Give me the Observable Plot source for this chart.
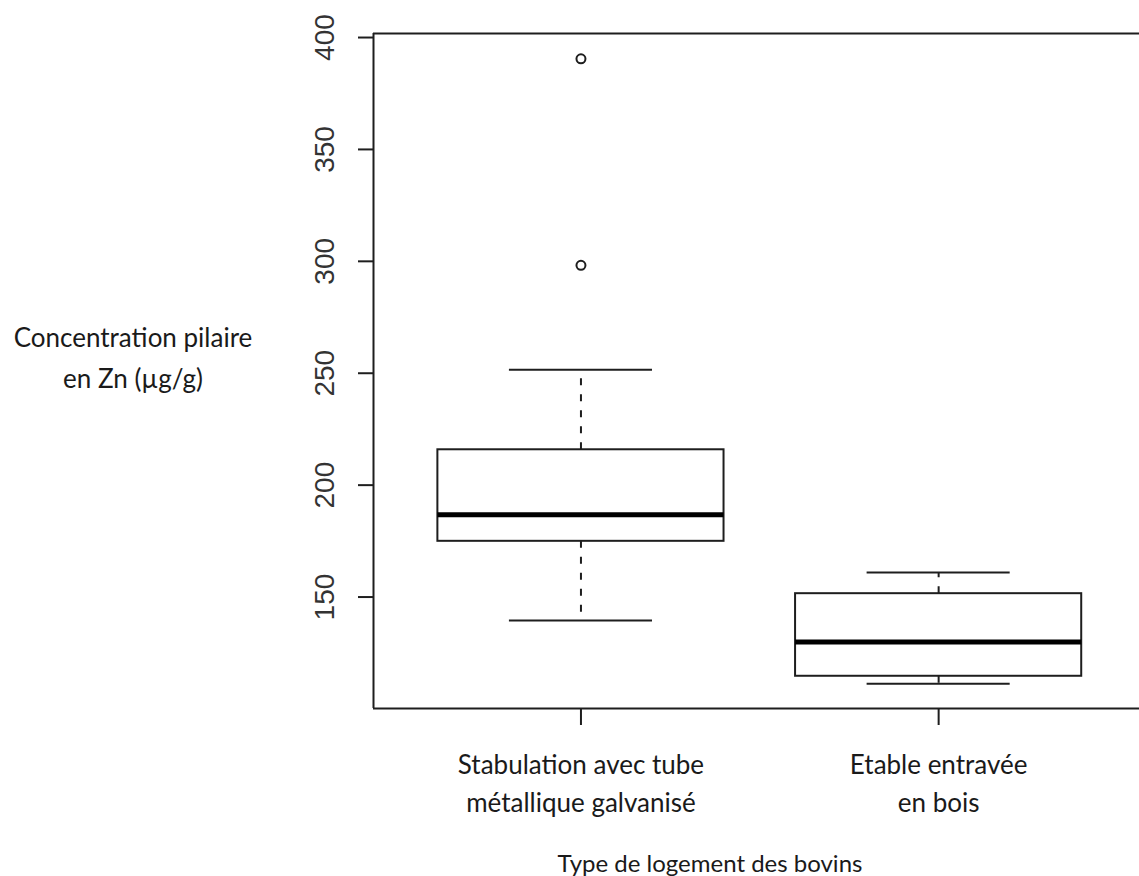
<!DOCTYPE html>
<html>
<head>
<meta charset="utf-8">
<script src="https://cdn.jsdelivr.net/npm/d3@7"></script>
<script src="https://cdn.jsdelivr.net/npm/@observablehq/plot@0.6"></script>
<style>
  body { margin: 0; background: #fff; }
  #wrap { position: relative; width: 1139px; height: 876px; overflow: hidden; }
  .lab { position: absolute; font-family: Lato, "Open Sans", sans-serif; font-size: 26px; color: #1a1a1a; text-align: center; line-height: 41px; white-space: nowrap; }
  #wrap svg { position: absolute; left: 0; top: 0; }
</style>
</head>
<body>
<div id="wrap">
  <div class="lab" id="ylab" style="left:0px; top:317px; width:266px;">Concentration pilaire<br>en Zn (µg/g)</div>
  <div class="lab" id="xlab" style="left:510px; top:842px; width:400px; font-size:24px;">Type de logement des bovins</div>
</div>
<script>
// ---- data ----
const groups = [1, 2];
const categories = ["Stabulation avec tube\nmétallique galvanisé", "Etable entravée\nen bois"];
const lowerWhisker = [139.5, 111.3];
const q1 = [174.9, 114.6];
const median = [186.8, 129.9];
const q3 = [215.8, 151.5];
const upperWhisker = [251.6, 161.0];
const outlierGroup = [1, 1];
const outlierValue = [390.5, 298.2];
const yTicks = [150, 200, 250, 300, 350, 400];

// ---- tables built from the arrays ----
const boxes = groups.map((g, i) => ({
  g, lo: lowerWhisker[i], q1: q1[i], med: median[i], q3: q3[i], hi: upperWhisker[i]
}));
const outliers = outlierGroup.map((g, i) => ({ g, v: outlierValue[i] }));

const xDomain = [0.42, 2.58];
const yDomain = [100.2, 401.8];
const boxHalf = 0.4, capHalf = 0.2;
const ink = "#1e1e1e";

const chart = Plot.plot({
  width: 1139,
  height: 876,
  marginLeft: 373,
  marginRight: 0,
  marginTop: 33,
  marginBottom: 168,
  style: { background: "transparent", overflow: "visible" },
  x: { type: "linear", domain: xDomain, range: [373, 1145.6] },
  y: { domain: yDomain, range: [708, 33] },
  marks: [
    // frame (left, top, bottom; right side is cropped off)
    Plot.ruleX([xDomain[0]], { y1: () => yDomain[0], y2: () => yDomain[1], stroke: ink, strokeWidth: 2 }),
    Plot.ruleY(yDomain, { x1: () => xDomain[0], x2: () => xDomain[1], stroke: ink, strokeWidth: 2 }),
    // whiskers
    Plot.ruleX(boxes, { x: "g", y1: "q3", y2: "hi", stroke: ink, strokeWidth: 2, strokeDasharray: "7,9" }),
    Plot.ruleX(boxes, { x: "g", y1: "q1", y2: "lo", stroke: ink, strokeWidth: 2, strokeDasharray: "7,9" }),
    Plot.ruleY(boxes, { y: "hi", x1: d => d.g - capHalf, x2: d => d.g + capHalf, stroke: ink, strokeWidth: 2 }),
    Plot.ruleY(boxes, { y: "lo", x1: d => d.g - capHalf, x2: d => d.g + capHalf, stroke: ink, strokeWidth: 2 }),
    // boxes
    Plot.rect(boxes, { x1: d => d.g - boxHalf, x2: d => d.g + boxHalf, y1: "q1", y2: "q3", fill: "white", stroke: ink, strokeWidth: 2 }),
    Plot.ruleY(boxes, { y: "med", x1: d => d.g - boxHalf, x2: d => d.g + boxHalf, stroke: "#000", strokeWidth: 5 }),
    // outliers
    Plot.dot(outliers, { x: "g", y: "v", r: 4.5, stroke: ink, strokeWidth: 2, fill: "none" }),
    // axes
    Plot.axisY(yTicks, {
      anchor: "left", tickSize: 15, tickPadding: 25, tickRotate: -90,
      fontSize: 28, fontFamily: "'Liberation Sans', Arial, sans-serif",
      color: ink, fill: "#333", strokeWidth: 2, label: null
    }),
    Plot.axisX(groups, {
      anchor: "bottom", tickSize: 17, tickPadding: 22,
      tickFormat: d => categories[d - 1],
      fontSize: 26, fontFamily: "Lato, 'Open Sans', sans-serif", lineHeight: 1.46,
      color: ink, fill: "#1a1a1a", strokeWidth: 2, label: null
    })
  ]
});
document.getElementById("wrap").prepend(chart);
</script>
</body>
</html>
